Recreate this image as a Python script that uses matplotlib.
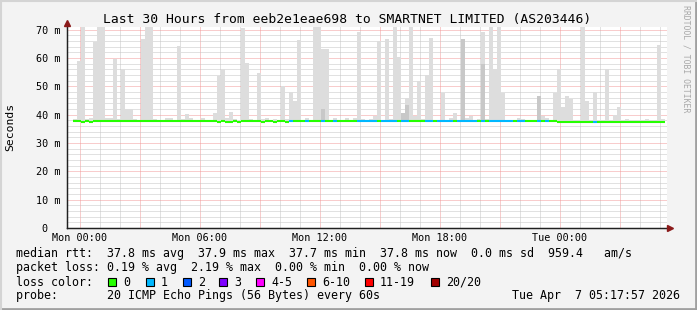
import matplotlib.pyplot as plt
from matplotlib.patches import Rectangle
from matplotlib.lines import Line2D
from matplotlib.ticker import MultipleLocator, FixedLocator

# 12-minute bins, first bin starts 21 min before Mon 00:00
bin_hours = 0.2
first_bin = -0.35

# top of the smoke (ms) per bin
smoke_top = [
    38.4, 59.1, 71.0, 38.6, 38.8, 65.8, 71.0, 71.0, 38.7, 38.7,
    59.7, 38.5, 56.0, 42.0, 42.0, 38.5, 38.3, 66.8, 71.0, 71.0,
    38.5, 38.3, 38.3, 38.7, 39.0, 38.3, 64.3, 38.5, 40.3, 39.0,
    38.3, 38.3, 39.0, 38.3, 38.3, 40.6, 53.8, 56.0, 38.8, 41.0,
    38.5, 38.3, 70.8, 58.2, 38.5, 38.3, 54.9, 38.5, 39.0, 38.3,
    38.6, 38.3, 50.2, 38.5, 48.2, 45.0, 66.4, 38.3, 39.0, 38.3,
    71.0, 71.0, 63.2, 63.2, 38.3, 39.0, 38.3, 38.3, 39.0, 38.3,
    38.7, 69.4, 38.5, 38.3, 38.4, 39.5, 66.2, 38.3, 66.8, 38.5,
    71.0, 60.3, 40.7, 45.8, 71.0, 39.5, 51.9, 38.5, 54.0, 67.2,
    38.3, 38.3, 47.8, 38.3, 39.0, 40.7, 38.3, 66.8, 39.0, 39.5,
    38.3, 38.5, 69.4, 38.5, 71.0, 56.0, 71.0, 47.8, 38.3, 38.3,
    38.3, 39.0, 38.5, 38.3, 38.3, 38.3, 46.5, 39.5, 39.0, 38.3,
    47.8, 56.2, 42.8, 46.6, 45.7, 38.3, 38.3, 71.0, 44.9, 38.3,
    48.2, 38.3, 38.3, 56.2, 38.3, 39.9, 42.8, 38.3, 38.6, 38.3,
    38.3, 38.3, 38.3, 38.6, 38.3, 38.3, 64.7, 38.5,
]

# darker (denser) part of the smoke: bin index -> top (ms)
dense_bins = [62, 82, 83, 97, 102, 116]
dense_top = [42.0, 40.7, 43.4, 66.8, 58.0, 46.5]

# median rtt (ms) per bin
median_rtt = [
    37.8, 37.8, 37.4, 37.8, 37.4, 37.8, 37.8, 37.8, 37.8, 37.8,
    37.8, 37.8, 37.8, 37.8, 37.8, 37.8, 37.8, 37.8, 37.8, 37.8,
    37.8, 37.8, 37.8, 37.8, 37.8, 37.8, 37.8, 37.8, 37.8, 37.8,
    37.8, 37.8, 37.8, 37.8, 37.8, 37.8, 37.4, 37.8, 37.4, 37.4,
    37.8, 37.4, 37.8, 37.8, 37.8, 37.8, 37.8, 37.4, 37.8, 37.8,
    37.4, 37.8, 37.8, 37.4, 37.9, 37.9, 37.9, 37.9, 37.9, 37.9,
    37.9, 37.9, 37.9, 37.9, 37.9, 37.9, 37.9, 37.9, 37.9, 37.9,
    37.9, 37.9, 37.9, 37.9, 37.9, 37.9, 37.9, 37.9, 37.9, 37.9,
    37.9, 37.9, 37.9, 37.9, 37.9, 37.9, 37.9, 37.9, 37.9, 37.9,
    37.9, 37.9, 37.9, 37.9, 37.9, 37.9, 37.9, 37.9, 37.9, 37.9,
    37.9, 37.9, 37.9, 37.9, 37.9, 37.9, 37.9, 37.9, 37.9, 37.9,
    37.9, 37.9, 37.9, 37.9, 37.9, 37.9, 37.9, 37.9, 37.9, 37.9,
    37.9, 37.5, 37.5, 37.5, 37.5, 37.5, 37.5, 37.5, 37.5, 37.5,
    37.5, 37.5, 37.5, 37.5, 37.5, 37.5, 37.5, 37.5, 37.5, 37.5,
    37.5, 37.5, 37.5, 37.5, 37.5, 37.5, 37.5, 37.5,
]

# lost packets per bin (out of 20)
lost = [
    0, 0, 0, 0, 0, 0, 0, 0, 0, 0,
    0, 0, 0, 0, 0, 0, 0, 0, 0, 0,
    0, 0, 0, 0, 0, 0, 0, 0, 0, 0,
    0, 0, 0, 0, 0, 0, 0, 0, 0, 0,
    0, 0, 0, 0, 0, 0, 0, 0, 0, 0,
    0, 0, 0, 0, 1, 0, 0, 0, 1, 0,
    0, 0, 1, 0, 0, 1, 0, 0, 0, 0,
    0, 1, 1, 1, 1, 1, 0, 1, 1, 1,
    1, 0, 1, 1, 0, 0, 0, 0, 1, 1,
    0, 1, 1, 1, 1, 0, 1, 1, 1, 1,
    1, 0, 1, 0, 1, 1, 1, 1, 1, 1,
    0, 1, 1, 0, 0, 0, 1, 0, 1, 0,
    0, 0, 0, 0, 0, 0, 0, 0, 0, 0,
    1, 0, 0, 0, 0, 0, 0, 0, 0, 0,
    0, 0, 0, 0, 0, 0, 0, 0,
]

loss_labels = ['0', '1', '2', '3', '4-5', '6-10', '11-19', '20/20']
loss_colors = ['#26ff00', '#00b8ff', '#0059ff', '#7e00ff', '#ff00ff', '#ff5500', '#ff0000', '#a10000']

tick_hours = [0, 6, 12, 18, 24]
tick_labels = ['Mon 00:00', 'Mon 06:00', 'Mon 12:00', 'Mon 18:00', 'Tue 00:00']
y_ticks = [0, 10, 20, 30, 40, 50, 60, 70]
y_labels = ['0  ', '10 m', '20 m', '30 m', '40 m', '50 m', '60 m', '70 m']

title = 'Last 30 Hours from eeb2e1eae698 to SMARTNET LIMITED (AS203446)'
stats_rtt = 'median rtt:  37.8 ms avg  37.9 ms max  37.7 ms min  37.8 ms now  0.0 ms sd  959.4   am/s'
stats_loss = 'packet loss: 0.19 % avg  2.19 % max  0.00 % min  0.00 % now'
probe = 'probe:       20 ICMP Echo Pings (56 Bytes) every 60s'
stamp = 'Tue Apr  7 05:17:57 2026'

W, H = 697, 310
plt.rcParams['font.family'] = 'DejaVu Sans Mono'


def fx(px):
    return px / W


def fy(py):
    return 1 - py / H


fig = plt.figure(figsize=(W / 100, H / 100), dpi=100, facecolor='#f3f3f3')
ax = fig.add_axes([fx(67), fy(228), 600 / W, 201 / H])
ax.set_facecolor('white')
ax.set_xlim(-0.65, 29.35)
ax.set_ylim(0, 71)

starts = [first_bin + bin_hours * i for i in range(len(smoke_top))]

# smoke
ax.bar(starts, [t - m for t, m in zip(smoke_top, median_rtt)], bottom=median_rtt,
       width=bin_hours, align='edge', color='#dddddd', linewidth=0, zorder=2)
ax.bar([starts[i] for i in dense_bins],
       [t - median_rtt[i] for i, t in zip(dense_bins, dense_top)],
       bottom=[median_rtt[i] for i in dense_bins],
       width=bin_hours, align='edge', color='#c8c8c8', linewidth=0, zorder=2)

# median line coloured by loss
for i, (s, m, l) in enumerate(zip(starts, median_rtt, lost)):
    ax.hlines(m, s, s + bin_hours, color=loss_colors[l], lw=1.5, zorder=4)
    if i > 0 and median_rtt[i - 1] != m:
        ax.vlines(s, median_rtt[i - 1], m, color=loss_colors[0], lw=1.5, zorder=3)

# grid: red every 3 h / 10 ms, grey every 1 h / 2 ms
grid_dots = (0, (1, 1))
ax.xaxis.set_major_locator(FixedLocator(list(range(0, 30, 3))))
ax.xaxis.set_minor_locator(MultipleLocator(1))
ax.yaxis.set_minor_locator(MultipleLocator(2))
ax.set_xticklabels([tick_labels[tick_hours.index(h)] if h in tick_hours else ''
                    for h in range(0, 30, 3)])
ax.set_yticks(y_ticks)
ax.set_yticklabels(y_labels)
ax.grid(which='minor', color='#c4c4c4', ls=grid_dots, lw=0.72)
ax.grid(which='major', color='#f29a9a', ls=grid_dots, lw=0.72)
ax.set_axisbelow(True)
ax.tick_params(which='both', length=0, labelsize=7.3, colors='black')
ax.tick_params(axis='x', pad=3.5)
ax.tick_params(axis='y', pad=5)

for side in ['top', 'right']:
    ax.spines[side].set_visible(False)
for side in ['left', 'bottom']:
    ax.spines[side].set_color('#202020')
    ax.spines[side].set_linewidth(0.9)

# axis arrows
fig.add_artist(Line2D([fx(67), fx(67)], [fy(228), fy(24)], color='#202020', lw=0.9))
fig.add_artist(Line2D([fx(67), fx(669)], [fy(228), fy(228)], color='#202020', lw=0.9))
fig.add_artist(Line2D([fx(67)], [fy(23)], marker='^', ms=4.5, color='#8b1a1a', lw=0))
fig.add_artist(Line2D([fx(670)], [fy(228)], marker='>', ms=4.5, color='#8b1a1a', lw=0))

# titles
fig.text(fx(347), fy(19), title, ha='center', va='center', fontsize=9.4)
fig.text(fx(10), fy(127), 'Seconds', rotation=90, ha='center', va='center', fontsize=8.2)
fig.text(fx(686), fy(5), 'RRDTOOL / TOBI OETIKER', rotation=270, ha='center', va='top',
         fontsize=5.9, color='#a8a8a8')

# legend block
fs = 8.4
fig.text(fx(16), fy(254), stats_rtt, ha='left', va='center', fontsize=fs)
fig.text(fx(16), fy(268), stats_loss, ha='left', va='center', fontsize=fs)
fig.text(fx(16), fy(282), 'loss color:', ha='left', va='center', fontsize=fs)
box_x = [108, 146, 183, 219, 256, 307, 365, 431]
for bx, lab, col in zip(box_x, loss_labels, loss_colors):
    fig.add_artist(Rectangle((fx(bx), fy(286)), 8 / W, 8 / H, facecolor=col,
                             edgecolor='black', lw=0.8))
    fig.text(fx(bx + 15), fy(282), lab, ha='left', va='center', fontsize=fs)
fig.text(fx(16), fy(296), probe, ha='left', va='center', fontsize=fs)
fig.text(fx(680), fy(296), stamp, ha='right', va='center', fontsize=fs)

# 3d border
fig.add_artist(Line2D([0, 1], [fy(309), fy(309)], color='#a0a0a0', lw=2))
fig.add_artist(Line2D([fx(696), fx(696)], [0, 1], color='#a0a0a0', lw=2))
fig.add_artist(Line2D([0, 1], [fy(0.5), fy(0.5)], color='#d4d4d4', lw=1.5))
fig.add_artist(Line2D([fx(0.5), fx(0.5)], [0, 1], color='#d4d4d4', lw=1.5))

fig.savefig('out.png', dpi=100, facecolor=fig.get_facecolor())
